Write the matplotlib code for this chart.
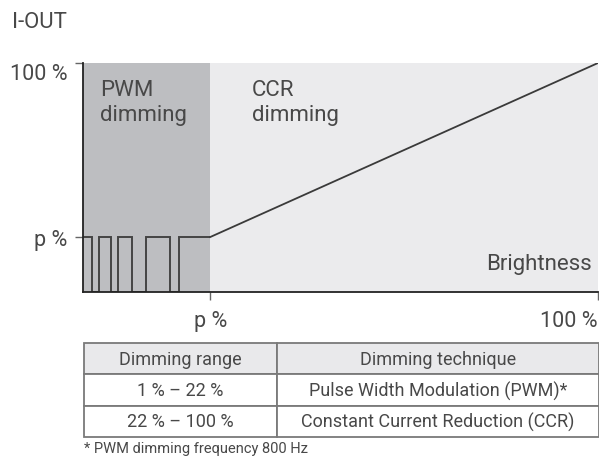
import matplotlib.pyplot as plt

plt.rcParams['font.family'] = ['Roboto', 'DejaVu Sans']

# brightness (x) and output current (y), in percent
p_brightness = 24.7
p_current = 24
x_max = 100
y_max = 100

# PWM waveform: edges along brightness axis, levels alternate high / low
pwm_edges = [0, 1.7, 3.1, 5.4, 6.7, 9.5, 12.2, 16.8, 18.6, p_brightness]
pwm_levels = [p_current, 0, p_current, 0, p_current, 0, p_current, 0, p_current]

x_ticks = [p_brightness, x_max]
x_labels = ['p %', '100 %']
y_ticks = [p_current, y_max]
y_labels = ['p %', '100 %']

table_header = ['Dimming range', 'Dimming technique']
table_rows = [['1 % \u2013 22 %', 'Pulse Width Modulation (PWM)*'],
              ['22 % \u2013 100 %', 'Constant Current Reduction (CCR)']]
footnote = '* PWM dimming frequency 800 Hz'

txt = '#484848'
big = 16
W, H = 599, 460
fig = plt.figure(figsize=(W / 100, H / 100), dpi=100)

# main diagram
ax = fig.add_axes([83 / W, 1 - 293 / H, (598 - 83) / W, (293 - 64) / H])
ax.fill_between([0, p_brightness], 0, y_max, color='#bdbec1', lw=0)
ax.fill_between([p_brightness, x_max], 0, y_max, color='#ebebed', lw=0)
ax.stairs(pwm_levels, pwm_edges, baseline=None, color='#444444', lw=1.4)
ax.plot([p_brightness, x_max], [p_current, y_max], color='#3a3a3a', lw=1.3)

ax.set_xlim(0, x_max)
ax.set_ylim(0, y_max)
for s in ['top', 'right']:
    ax.spines[s].set_visible(False)
for s in ['left', 'bottom']:
    ax.spines[s].set_color('#222222')
    ax.spines[s].set_linewidth(1.3)
    ax.spines[s].set_zorder(5)

ax.set_xticks(x_ticks, x_labels)
ax.set_yticks(y_ticks, y_labels)
ax.tick_params(axis='both', colors='#666666', labelcolor=txt, labelsize=15.5, width=1)
ax.tick_params(axis='y', length=6, pad=5)
ax.tick_params(axis='x', length=6, pad=7)
ax.get_xticklabels()[1].set_ha('right')
ax.get_yticklabels()[1].set_va('top')

ax.text(3.3, 93, 'PWM\ndimming', color=txt, fontsize=big, va='top', linespacing=1.22)
ax.text(32.8, 93, 'CCR\ndimming', color=txt, fontsize=big, va='top', linespacing=1.22)
ax.text(98.8, 10, 'Brightness', color=txt, fontsize=big, ha='right', va='baseline')

fig.text(12 / W, 1 - 22 / H, 'I-OUT', color=txt, fontsize=big, va='center')

# table below the diagram
tax = fig.add_axes([84 / W, 1 - 438 / H, (599 - 84) / W, (438 - 344) / H])
tax.axis('off')
tbl = tax.table(cellText=table_rows, colLabels=table_header, bbox=[0, 0, 1, 1],
                colWidths=[193 / 515, 322 / 515], cellLoc='center')
tbl.auto_set_font_size(False)
for (r, c), cell in tbl.get_celld().items():
    cell.set_edgecolor('#7a7a7a')
    cell.set_linewidth(1.3)
    cell.get_text().set_fontsize(13)
    cell.get_text().set_color(txt)
    if r == 0:
        cell.set_facecolor('#e9e9eb')

fig.text(84 / W, 1 - 449 / H, footnote, color=txt, fontsize=10.5, va='center')

fig.savefig('out.png', dpi=100)
